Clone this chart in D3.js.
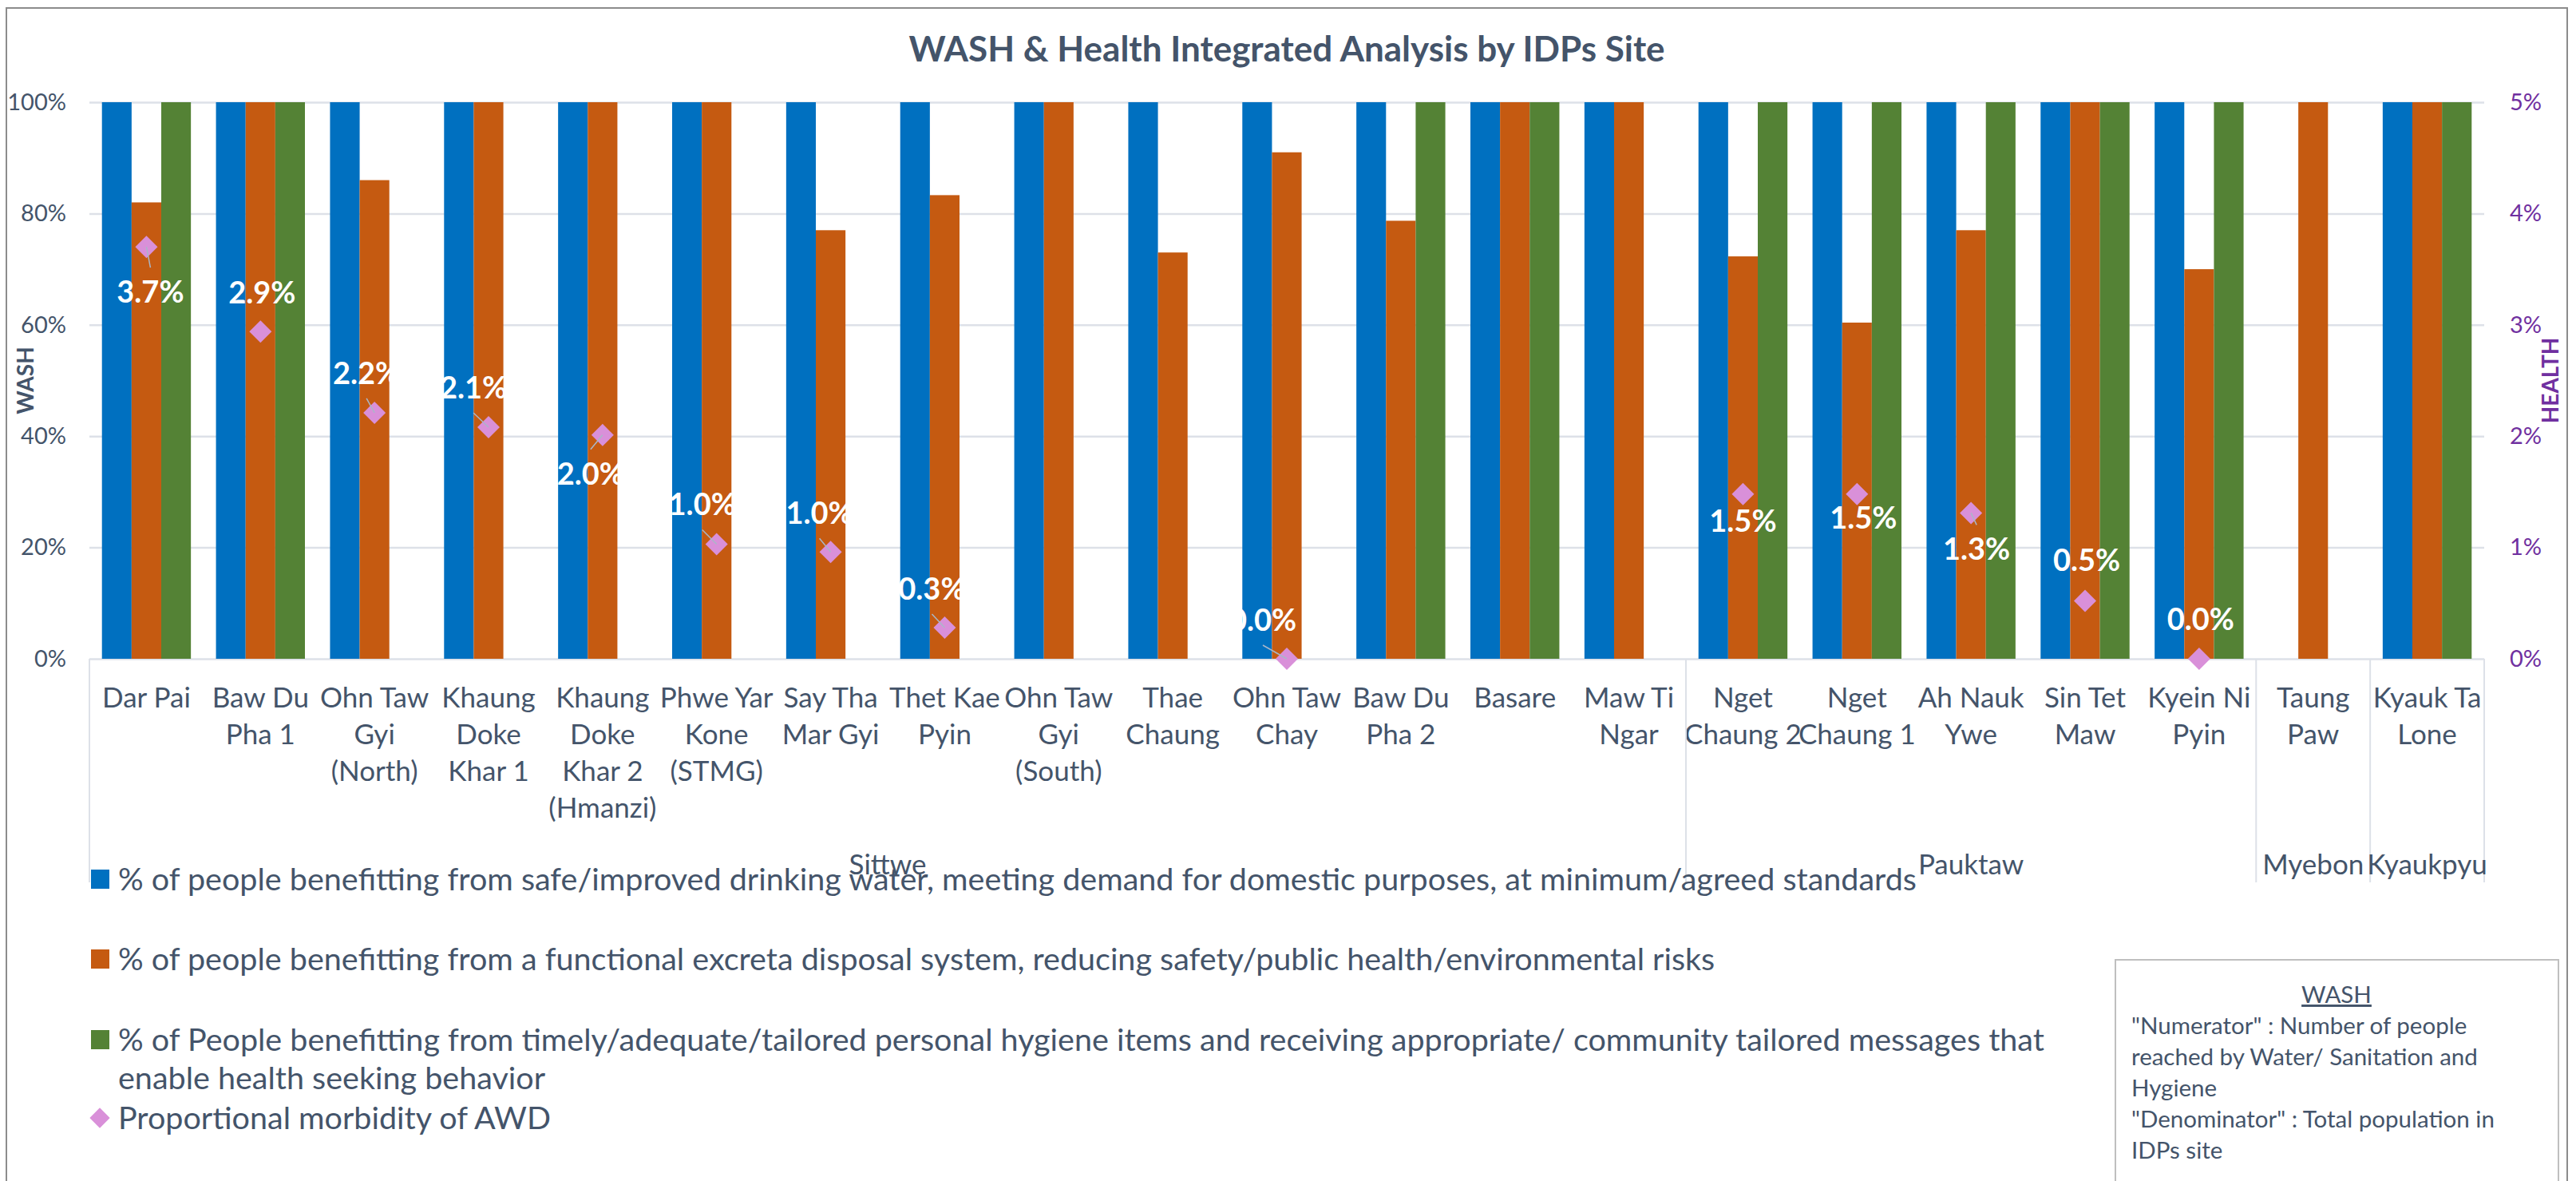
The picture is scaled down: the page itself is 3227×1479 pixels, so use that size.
<!DOCTYPE html>
<html>
<head>
<meta charset="utf-8">
<script src="https://cdn.jsdelivr.net/npm/d3@7"></script>
<style>
  body{margin:0;background:#fff;}
  text{font-family:Lato,"Open Sans",sans-serif;}
</style>
</head>
<body>
<div id="chart"></div>
<script>
// site names, with the line breaks the tick labels have in the picture
const sites=["Dar Pai","Baw Du\nPha 1","Ohn Taw\nGyi\n(North)","Khaung\nDoke\nKhar 1","Khaung\nDoke\nKhar 2\n(Hmanzi)",
  "Phwe Yar\nKone\n(STMG)","Say Tha\nMar Gyi","Thet Kae\nPyin","Ohn Taw\nGyi\n(South)","Thae\nChaung","Ohn Taw\nChay",
  "Baw Du\nPha 2","Basare","Maw Ti\nNgar","Nget\nChaung 2","Nget\nChaung 1","Ah Nauk\nYwe","Sin Tet\nMaw",
  "Kyein Ni\nPyin","Taung\nPaw","Kyauk Ta\nLone"];
const townships=["Sittwe","Pauktaw","Myebon","Kyaukpyu"];
const townshipSites=[14,5,1,1];

const water=[100,100,100,100,100,100,100,100,100,100,100,100,100,100,100,100,100,100,100,null,100];
const sanitation=[82,100,86,100,100,100,77,83.3,100,73,91,78.7,100,100,72.3,60.4,77,100,70,100,100];
const hygiene=[100,100,null,null,null,null,null,null,null,null,null,100,100,null,100,100,100,100,100,null,100];
const awd=[3.7,2.94,2.21,2.08,2.01,1.03,0.96,0.28,null,null,0,null,null,null,1.48,1.48,1.31,0.52,0,null,null];

const washTicks=[0,20,40,60,80,100];
const healthTicks=[0,1,2,3,4,5];

const seriesNames=[
  "% of people benefitting from safe/improved drinking water, meeting demand for domestic purposes, at minimum/agreed standards",
  "% of people benefitting from a functional excreta disposal system, reducing safety/public health/environmental risks",
  "% of People benefitting from timely/adequate/tailored personal hygiene items and receiving appropriate/ community tailored messages that enable health seeking behavior",
  "Proportional morbidity of AWD"];
const noteTitle="WASH";
const noteLines=["\"Numerator\" : Number of people","reached by Water/ Sanitation and","Hygiene","\"Denominator\" : Total population in","IDPs site"];

// label placement (dx, dy from the marker, leader line or not) as moved in the original
const labelShift=[[5,57,1],[2,-48,0],[-10,-49,1],[-19,-49,1],[-15,49,1],[-18,-49,1],[-14,-48,1],[-16,-48,1],null,null,
  [-30,-48,1],null,null,null,[0,34,0],[8,30,0],[7,46,1],[2,-51,0],[2,-49,0],null,null];

const W=3227, H=1479;
const plotL=112, plotR=3112, plotT=128, plotB=825;
const txt="#44546a";
const colors=["#0070c0","#c55a11","#548235"];

const svg=d3.select("#chart").append("svg").attr("width",W).attr("height",H);

svg.append("rect").attr("x",8).attr("y",10).attr("width",3208).attr("height",1520)
   .attr("fill","#fff").attr("stroke","#8c8c8c").attr("stroke-width",2);

const x0=d3.scaleBand().domain(sites).range([plotL,plotR]).paddingInner(0.22).paddingOuter(0.11);
const x1=d3.scaleBand().domain([0,1,2]).range([0,x0.bandwidth()]);
const y=d3.scaleLinear().domain([0,100]).range([plotB,plotT]);
const yH=d3.scaleLinear().domain([0,5]).range([plotB,plotT]);

// grid + left axis
const gy=svg.append("g").attr("transform",`translate(${plotL},0)`)
  .call(d3.axisLeft(y).tickValues(washTicks).tickSize(-(plotR-plotL)).tickPadding(29).tickFormat(d=>d+"%"));
gy.select(".domain").remove();
gy.selectAll("line").attr("stroke","#dde1e8").attr("stroke-width",2.5);
gy.selectAll("text").attr("fill",txt).style("font-size","29px");

const gyr=svg.append("g").attr("transform",`translate(${plotR},0)`)
  .call(d3.axisRight(yH).tickValues(healthTicks).tickSize(0).tickPadding(32).tickFormat(d=>d+"%"));
gyr.select(".domain").remove();
gyr.selectAll("text").attr("fill","#7030a0").style("font-size","29px");

svg.append("text").text("WASH").attr("transform",`translate(42,${(plotT+plotB)/2}) rotate(-90)`)
   .attr("text-anchor","middle").attr("fill",txt).style("font-size","28px").style("font-weight","bold");
svg.append("text").text("HEALTH").attr("transform",`translate(3205,${(plotT+plotB)/2}) rotate(-90)`)
   .attr("text-anchor","middle").attr("fill","#7030a0").style("font-size","28px").style("font-weight","bold");

// bars
const series=[water,sanitation,hygiene];
const groups=svg.append("g").selectAll("g").data(sites).join("g")
  .attr("transform",d=>`translate(${x0(d)},0)`);
groups.selectAll("rect")
  .data((d,i)=>series.map((s,k)=>({k,v:s[i]})).filter(o=>o.v!=null))
  .join("rect")
  .attr("x",o=>x1(o.k)).attr("width",x1.bandwidth())
  .attr("y",o=>y(o.v)).attr("height",o=>y(0)-y(o.v))
  .attr("fill",o=>colors[o.k]);

// category axis
const gx=svg.append("g").attr("transform",`translate(0,${plotB})`)
  .call(d3.axisBottom(x0).tickSize(0));
gx.select(".domain").remove();
gx.selectAll("text").each(function(d){
  const t=d3.select(this).text(null).attr("dy",null).attr("y",null)
    .attr("fill",txt).style("font-size","35px");
  d.split("\n").forEach((line,i)=>t.append("tspan").attr("x",0).attr("y",61+i*46).text(line));
});

// township level
const step=x0.step();
let start=0;
townships.forEach((t,i)=>{
  const a=plotL+start*step, b=plotL+(start+townshipSites[i])*step;
  svg.append("line").attr("x1",a).attr("x2",a).attr("y1",plotB).attr("y2",1105)
     .attr("stroke","#dde1e8").attr("stroke-width",2);
  if(i===townships.length-1)
    svg.append("line").attr("x1",b).attr("x2",b).attr("y1",plotB).attr("y2",1105)
       .attr("stroke","#dde1e8").attr("stroke-width",2);
  svg.append("text").text(t).attr("x",(a+b)/2).attr("y",1095).attr("text-anchor","middle")
     .attr("fill",txt).style("font-size","35px");
  start+=townshipSites[i];
});

// AWD markers
const pts=awd.map((v,i)=>({v,i})).filter(p=>p.v!=null);
const px=p=>x0(sites[p.i])+x0.bandwidth()/2;
const diamond=d3.symbol().type(d3.symbolSquare).size(392);
svg.append("g").selectAll("path").data(pts).join("path")
  .attr("d",diamond).attr("fill","#d990d9")
  .attr("transform",p=>`translate(${px(p)},${yH(p.v)}) rotate(45)`);

svg.append("g").selectAll("line").data(pts.filter(p=>labelShift[p.i][2])).join("line")
  .attr("x1",p=>px(p)).attr("y1",p=>yH(p.v))
  .attr("x2",p=>px(p)+labelShift[p.i][0])
  .attr("y2",p=>yH(p.v)+labelShift[p.i][1]-Math.sign(labelShift[p.i][1])*31)
  .attr("stroke","#a9b7c9").attr("stroke-width",1.5);

svg.append("g").selectAll("text").data(pts).join("text")
  .text(p=>d3.format(".1f")(p.v)+"%")
  .attr("x",p=>px(p)+labelShift[p.i][0])
  .attr("y",p=>yH(p.v)+labelShift[p.i][1]+13)
  .attr("text-anchor","middle").attr("fill","#fff")
  .style("font-size","38px").style("font-weight","bold");

// title
svg.append("text").text("WASH & Health Integrated Analysis by IDPs Site")
   .attr("x",1612).attr("y",77).attr("text-anchor","middle").attr("fill",txt)
   .style("font-size","44px").style("font-weight","bold");

// legend
const legendY=[1101,1201,1302,1400];
const legend=svg.append("g");
seriesNames.forEach((name,i)=>{
  const cy=legendY[i];
  if(i<3) legend.append("rect").attr("x",114).attr("y",cy-12).attr("width",23).attr("height",24).attr("fill",colors[i]);
  else legend.append("path").attr("d",d3.symbol().type(d3.symbolSquare).size(320))
        .attr("transform",`translate(125,${cy}) rotate(45)`).attr("fill","#d990d9");
  const t=legend.append("text").attr("x",148).attr("y",cy+14).attr("fill",txt).style("font-size","39.5px");
  const words=name.split(" ");
  let line=[], ts=t.append("tspan").attr("x",148);
  words.forEach(wd=>{
    line.push(wd);
    ts.text(line.join(" "));
    if(ts.node().getComputedTextLength()>2480 && line.length>1){
      line.pop(); ts.text(line.join(" "));
      line=[wd];
      ts=t.append("tspan").attr("x",148).attr("dy",48).text(wd);
    }
  });
});

// note box
svg.append("rect").attr("x",2650).attr("y",1202).attr("width",555).attr("height",320)
   .attr("fill","#fff").attr("stroke","#bfbfbf").attr("stroke-width",2);
svg.append("text").text(noteTitle).attr("x",2927).attr("y",1256).attr("text-anchor","middle")
   .attr("fill",txt).style("font-size","29.5px").style("text-decoration","underline");
noteLines.forEach((l,i)=>svg.append("text").text(l).attr("x",2670).attr("y",1295+i*39)
   .attr("fill",txt).style("font-size","29.5px"));
</script>
</body>
</html>
